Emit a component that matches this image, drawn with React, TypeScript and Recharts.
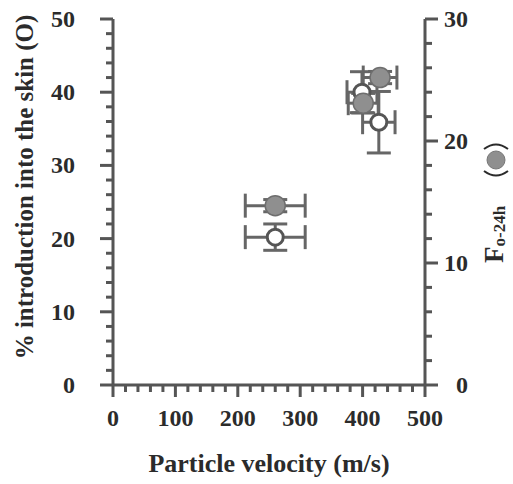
import { ScatterChart, Scatter, XAxis, YAxis, ErrorBar } from "recharts";

// open circles: % introduced into the skin (left axis)
const OPEN_VELOCITY = [260, 399, 426];
const OPEN_VELOCITY_ERR = [48, 24, 26];
const OPEN_PCT = [20.2, 40.0, 35.9];
const OPEN_PCT_ERR = [1.8, 2.8, 4.2];

// filled circles: F o-24h (right axis)
const FILLED_VELOCITY = [260, 401, 428];
const FILLED_VELOCITY_ERR = [48, 24, 27];
const FILLED_F = [14.7, 23.1, 25.2];
const FILLED_F_ERR = [0.5, 0.8, 0.5];

const X_TICKS = [0, 20, 40, 60, 80, 100, 120, 140, 160, 180, 200, 220, 240, 260, 280, 300, 320, 340, 360, 380, 400, 420, 440, 460, 480, 500];
const LEFT_TICKS = [0, 2, 4, 6, 8, 10, 12, 14, 16, 18, 20, 22, 24, 26, 28, 30, 32, 34, 36, 38, 40, 42, 44, 46, 48, 50];
const RIGHT_TICKS = [0, 2, 4, 6, 8, 10, 12, 14, 16, 18, 20, 22, 24, 26, 28, 30];

const openData = OPEN_VELOCITY.map((x, i) => ({ x, y: OPEN_PCT[i], ex: OPEN_VELOCITY_ERR[i], ey: OPEN_PCT_ERR[i] }));
const filledData = FILLED_VELOCITY.map((x, i) => ({ x, y: FILLED_F[i], ex: FILLED_VELOCITY_ERR[i], ey: FILLED_F_ERR[i] }));

const INK = "#2b2b2b";
const AXIS = "#555";
const BAR = "#666";
const FONT = "'Liberation Serif', 'Times New Roman', serif";
const TICK_FONT = 24;
const txt = { fontFamily: FONT, fontWeight: 700 as const };

function XTick({ x, y, payload }: any) {
  const v = payload.value;
  const major = v % 100 === 0;
  return (
    <g>
      <line x1={x} x2={x} y1={y} y2={y + (major ? 12 : 7)} stroke={AXIS} strokeWidth={3} />
      {major && (
        <text x={x} y={y + 41} textAnchor="middle" style={txt} fontSize={TICK_FONT} fill={INK}>
          {v}
        </text>
      )}
    </g>
  );
}

function LeftTick({ x, y, payload }: any) {
  const v = payload.value;
  const major = v % 10 === 0;
  return (
    <g>
      <line x1={x} x2={x - (major ? 13 : 7)} y1={y} y2={y} stroke={AXIS} strokeWidth={3} />
      {major && (
        <text x={x - 38} y={y + 8} textAnchor="end" style={txt} fontSize={TICK_FONT} fill={INK}>
          {v}
        </text>
      )}
    </g>
  );
}

function RightTick({ x, y, payload }: any) {
  const v = payload.value;
  const major = v % 10 === 0;
  return (
    <g>
      <line x1={x} x2={x + (major ? 13 : 7)} y1={y} y2={y} stroke={AXIS} strokeWidth={3} />
      {major && (
        <text x={x + 43} y={y + 8} textAnchor="end" style={txt} fontSize={TICK_FONT} fill={INK}>
          {v}
        </text>
      )}
    </g>
  );
}

function XTitle(props: any) {
  const vb = props.viewBox ?? { x: 113, y: 385, width: 312, height: 60 };
  return (
    <text x={vb.x + vb.width / 2} y={vb.y + 87} textAnchor="middle" style={txt} fontSize={26} fill={INK}>
      Particle velocity (m/s)
    </text>
  );
}

function LeftTitle(props: any) {
  const vb = props.viewBox ?? { x: 53, y: 19, width: 60, height: 366 };
  const cx = vb.x - 20;
  const cy = vb.y + vb.height / 2 - 15;
  return (
    <text x={cx} y={cy} transform={`rotate(-90 ${cx} ${cy})`} textAnchor="middle" style={txt} fontSize={25} fill={INK}>
      % introduction into the skin (O)
    </text>
  );
}

function RightTitle(props: any) {
  const vb = props.viewBox ?? { x: 425, y: 19, width: 60, height: 366 };
  const bx = vb.x + 78;
  const by = vb.y + vb.height / 2 + 61;
  return (
    <g transform={`translate(${bx} ${by}) rotate(-90)`}>
      <text x={0} y={0} style={txt} fontSize={27} fill={INK}>
        F
        <tspan fontSize={17} dy={2}>o-24h</tspan>
      </text>
      {/* parentheses round the filled symbol */}
      <path d="M 92 -19 Q 83 -7 92 5" fill="none" stroke={INK} strokeWidth={2} />
      <circle cx={103} cy={-7} r={9} fill="#8f8f8f" stroke="#777" strokeWidth={1} />
      <path d="M 114 -19 Q 123 -7 114 5" fill="none" stroke={INK} strokeWidth={2} />
    </g>
  );
}

const OpenDot = (p: any) => <circle cx={p.cx} cy={p.cy} r={8} fill="#fff" stroke={AXIS} strokeWidth={3} />;
const FilledDot = (p: any) => <circle cx={p.cx} cy={p.cy} r={10} fill="#8f8f8f" stroke="#6e6e6e" strokeWidth={1.5} />;

export default function App() {
  return (
    <div style={{ position: "absolute", left: 0, top: 0, background: "#fff" }}>
      <ScatterChart width={513} height={484} margin={{ top: 19, right: 28, bottom: 39, left: 53 }}>
        <XAxis
          type="number"
          dataKey="x"
          domain={[0, 500]}
          ticks={X_TICKS}
          interval={0}
          height={60}
          tickSize={0}
          tickMargin={0}
          tickLine={false}
          tick={<XTick />}
          axisLine={{ stroke: AXIS, strokeWidth: 3 }}
          label={{ content: XTitle }}
        />
        <YAxis
          yAxisId="left"
          type="number"
          dataKey="y"
          domain={[0, 50]}
          ticks={LEFT_TICKS}
          interval={0}
          width={60}
          tickSize={0}
          tickMargin={0}
          tickLine={false}
          tick={<LeftTick />}
          axisLine={{ stroke: AXIS, strokeWidth: 3 }}
          label={{ content: LeftTitle }}
        />
        <YAxis
          yAxisId="right"
          orientation="right"
          type="number"
          dataKey="y"
          domain={[0, 30]}
          ticks={RIGHT_TICKS}
          interval={0}
          width={60}
          tickSize={0}
          tickMargin={0}
          tickLine={false}
          tick={<RightTick />}
          axisLine={{ stroke: AXIS, strokeWidth: 3 }}
          label={{ content: RightTitle }}
        />
        <Scatter data={openData} yAxisId="left" shape={OpenDot} isAnimationActive={false}>
          <ErrorBar dataKey="ex" direction="x" width={12} stroke={BAR} strokeWidth={3} />
          <ErrorBar dataKey="ey" direction="y" width={12} stroke={BAR} strokeWidth={3} />
        </Scatter>
        <Scatter data={filledData} yAxisId="right" shape={FilledDot} isAnimationActive={false}>
          <ErrorBar dataKey="ex" direction="x" width={12} stroke={BAR} strokeWidth={3} />
          <ErrorBar dataKey="ey" direction="y" width={12} stroke={BAR} strokeWidth={3} />
        </Scatter>
      </ScatterChart>
    </div>
  );
}
